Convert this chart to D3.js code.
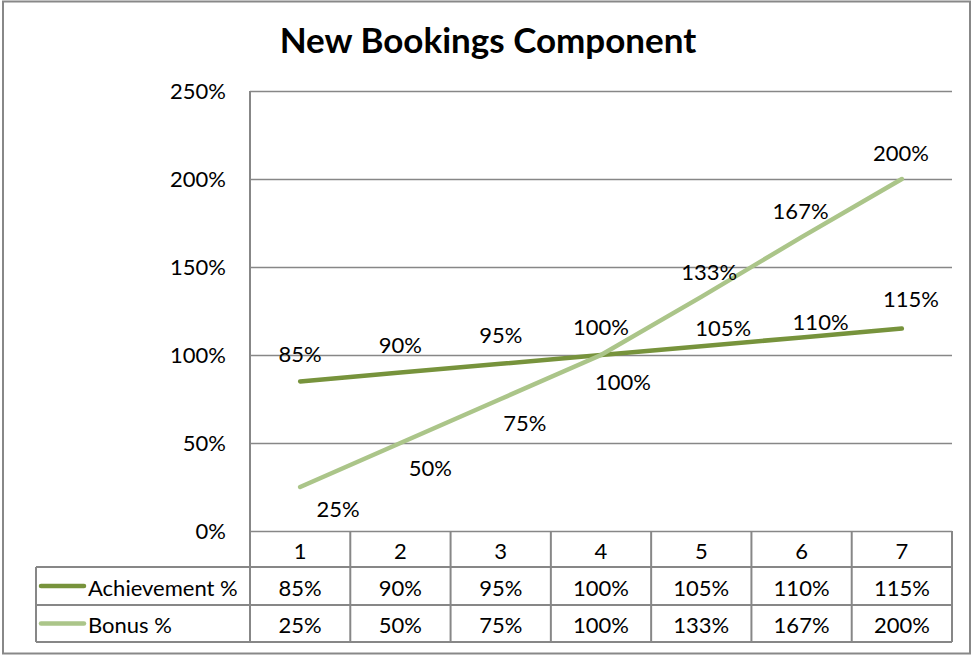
<!DOCTYPE html>
<html>
<head>
<meta charset="utf-8">
<script src="https://cdn.jsdelivr.net/npm/d3@7"></script>
<style>
  body { margin: 0; background: #fff; }
  text { font-family: Lato, "Open Sans", sans-serif; fill: #000; }
</style>
</head>
<body>
<div id="chart"></div>
<script>
const CATEGORIES = [1, 2, 3, 4, 5, 6, 7];
const ACHIEVEMENT = [85, 90, 95, 100, 105, 110, 115];
const BONUS = [25, 50, 75, 100, 133, 167, 200];
const Y_TICKS = [0, 50, 100, 150, 200, 250];
const SERIES_NAMES = ["Achievement %", "Bonus %"];

// hand-placed label nudges, like the original workbook
const ACH_NUDGE = [[0, -28], [0, -28], [0, -29], [0, -29], [22, -19], [19, -16], [9, -30]];
const BONUS_NUDGE = [[38, 21], [30, 24], [24, 23], [22, 26], [8, -25], [-1, -27], [-1, -27]];

const W = 976, H = 655;
const plot = { left: 250, right: 952, top: 91, bottom: 531 };
const rowH = [531, 567, 605, 642];
const tableLeft = 36;
const gridColor = "#878787";
const colors = ["#77933c", "#abc589"];
const fs = "22px";

const svg = d3.select("#chart").append("svg")
    .attr("width", W).attr("height", H);

svg.append("rect")
    .attr("x", 3).attr("y", 1.5).attr("width", 967).attr("height", 652)
    .attr("fill", "#fff").attr("stroke", "#888").attr("stroke-width", 2);

const x = d3.scaleBand().domain(CATEGORIES).range([plot.left, plot.right]).padding(0);
const y = d3.scaleLinear().domain([0, 250]).range([plot.bottom, plot.top]);
const cx = d => x(d) + x.bandwidth() / 2;

svg.append("text")
    .attr("x", 488).attr("y", 53)
    .attr("text-anchor", "middle")
    .style("font-size", "35px").style("font-weight", 700)
    .text("New Bookings Component");

// gridlines + y axis labels
svg.append("g").attr("transform", `translate(${plot.left},0)`)
    .call(d3.axisLeft(y).tickValues(Y_TICKS).tickFormat(d => d + "%")
        .tickSize(-(plot.right - plot.left)).tickPadding(24))
    .call(g => g.select(".domain").remove())
    .call(g => g.selectAll("line").attr("stroke", gridColor).attr("stroke-width", 1.5))
    .call(g => g.selectAll("text").style("font-size", fs)
        .style("font-family", "Lato, sans-serif").attr("fill", "#000"));

svg.append("line")
    .attr("x1", plot.left).attr("x2", plot.left)
    .attr("y1", plot.top).attr("y2", rowH[3])
    .attr("stroke", gridColor).attr("stroke-width", 2);

// lines
const line = d3.line().x((v, i) => cx(CATEGORIES[i])).y(v => y(v));
[ACHIEVEMENT, BONUS].forEach((vals, k) => {
    svg.append("path")
        .attr("d", line(vals))
        .attr("fill", "none")
        .attr("stroke", colors[k])
        .attr("stroke-width", 4.5)
        .attr("stroke-linecap", "round");
});

// data labels
const addLabels = (vals, nudge) => {
    svg.append("g").selectAll("text")
        .data(vals)
        .enter().append("text")
        .attr("x", (v, i) => cx(CATEGORIES[i]) + nudge[i][0])
        .attr("y", (v, i) => y(v) + nudge[i][1])
        .attr("text-anchor", "middle")
        .attr("dominant-baseline", "central")
        .style("font-size", fs)
        .text(v => v + "%");
};
addLabels(ACHIEVEMENT, ACH_NUDGE);
addLabels(BONUS, BONUS_NUDGE);

// data table
const tg = svg.append("g");
const edges = CATEGORIES.map(c => x(c)).concat([plot.right]);
tg.selectAll("line.v")
    .data(edges)
    .enter().append("line")
    .attr("x1", d => d).attr("x2", d => d)
    .attr("y1", rowH[0]).attr("y2", rowH[3])
    .attr("stroke", gridColor).attr("stroke-width", 2);
tg.append("line").attr("x1", tableLeft).attr("x2", tableLeft)
    .attr("y1", rowH[1]).attr("y2", rowH[3])
    .attr("stroke", gridColor).attr("stroke-width", 2);
[rowH[1], rowH[2], rowH[3]].forEach(yy => {
    tg.append("line").attr("x1", tableLeft).attr("x2", plot.right)
        .attr("y1", yy).attr("y2", yy)
        .attr("stroke", gridColor).attr("stroke-width", 2);
});

tg.selectAll("text.cat")
    .data(CATEGORIES)
    .enter().append("text")
    .attr("x", d => cx(d)).attr("y", (rowH[0] + rowH[1]) / 2 + 1)
    .attr("text-anchor", "middle").attr("dominant-baseline", "central")
    .style("font-size", fs)
    .text(d => d);

[ACHIEVEMENT, BONUS].forEach((vals, k) => {
    const mid = (rowH[k + 1] + rowH[k + 2]) / 2 + 1;
    tg.selectAll(null)
        .data(vals)
        .enter().append("text")
        .attr("x", (v, i) => cx(CATEGORIES[i])).attr("y", mid)
        .attr("text-anchor", "middle").attr("dominant-baseline", "central")
        .style("font-size", fs)
        .text(v => v + "%");
    tg.append("line")
        .attr("x1", 41).attr("x2", 84).attr("y1", mid - 1).attr("y2", mid - 1)
        .attr("stroke", colors[k]).attr("stroke-width", 4.5)
        .attr("stroke-linecap", "round");
    tg.append("text")
        .attr("x", 88).attr("y", mid)
        .attr("dominant-baseline", "central")
        .style("font-size", fs)
        .text(SERIES_NAMES[k]);
});
</script>
</body>
</html>
